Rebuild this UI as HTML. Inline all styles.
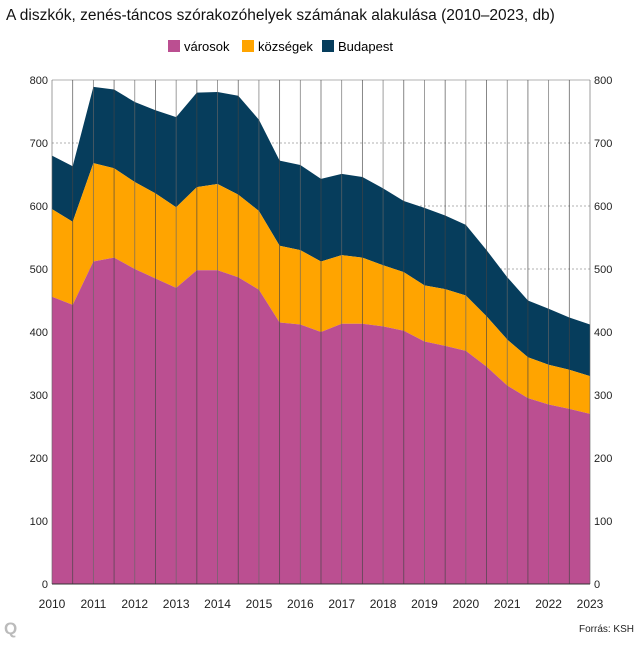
<!DOCTYPE html>
<html><head><meta charset="utf-8"><style>
body{margin:0;background:#fff;font-family:"Liberation Sans",sans-serif}
svg text{font-family:"Liberation Sans",sans-serif}
</style></head><body>
<svg id="c" width="640" height="640" viewBox="0 0 640 640">
<text x="6" y="20" font-size="15.5" fill="#111">A diszkók, zenés-táncos szórakozóhelyek számának alakulása (2010–2023, db)</text>
<g>
<rect x="168" y="40" width="12" height="12" fill="#bb4f91"/>
<text x="184" y="51" font-size="13">városok</text>
<rect x="242" y="40" width="12" height="12" fill="#ffa400"/>
<text x="258" y="51" font-size="13">községek</text>
<rect x="322" y="40" width="12" height="12" fill="#063d5c"/>
<text x="338" y="51" font-size="13">Budapest</text>
</g>
<g id="plot"></g>
<text x="4" y="634" font-size="17" font-weight="bold" fill="#bbb">Q</text>
<text x="634" y="632" font-size="10" text-anchor="end" fill="#222">Forrás: KSH</text>
</svg>
<script>
const yearLabels=["2010","2011","2012","2013","2014","2015","2016","2017","2018","2019","2020","2021","2022","2023"];
const yTicks=[0,100,200,300,400,500,600,700,800];
const varosok=[456,443,512,518,500,485,470,498,498,487,467,415,412,400,413,413,409,402,385,378,370,345,315,295,285,278,270];
const kozsegek=[139,132,156,142,138,135,128,132,137,131,125,122,118,112,109,105,97,93,89,90,88,80,73,65,63,62,60];
const budapest=[85,88,121,125,127,132,143,150,146,157,145,135,135,131,129,128,122,113,123,117,112,105,99,90,89,83,82];

const NS="http://www.w3.org/2000/svg";
const X0=52,X1=590,Y0=584,Y1=80,YMAX=800;
const n=varosok.length;
const xs=i=>X0+(X1-X0)*i/(n-1);
const ys=v=>Y0-(Y0-Y1)*v/YMAX;
const g=document.getElementById('plot');
function mk(t,a){const e=document.createElementNS(NS,t);for(const k in a)e.setAttribute(k,a[k]);g.appendChild(e);return e;}
// horizontal grid + labels
yTicks.forEach(v=>{
  const l=mk('line',{x1:X0,x2:X1,y1:ys(v),y2:ys(v),stroke:'#999','stroke-width':0.7,'stroke-dasharray':v===800?'':'2,2'});
  
  
  const t1=mk('text',{x:X0-4,y:ys(v)+4,'font-size':11,'text-anchor':'end',fill:'#222'});t1.textContent=v;
  
  
  const t2=mk('text',{x:X1+4,y:ys(v)+4,'font-size':11,fill:'#222'});t2.textContent=v;
  
  
});
// stacked areas
const s1=varosok, s2=varosok.map((v,i)=>v+kozsegek[i]), s3=s2.map((v,i)=>v+budapest[i]);
function area(top,bot,color,name){
  let d='M'+xs(0)+','+ys(top[0]);
  for(let i=1;i<n;i++)d+='L'+xs(i)+','+ys(top[i]);
  for(let i=n-1;i>=0;i--)d+='L'+xs(i)+','+ys(bot?bot[i]:0);
  const p=mk('path',{d:d+'Z',fill:color});
  
  
}
area(s3,s2,'#063d5c','area-budapest');
area(s2,s1,'#ffa400','area-kozsegek');
area(s1,null,'#bb4f91','area-varosok');
// vertical lines
for(let i=0;i<n;i++){
  const v=mk('line',{x1:xs(i),x2:xs(i),y1:Y1,y2:Y0,stroke:i%2?'#444':'#666','stroke-width':0.8,'stroke-opacity':0.8});
  
  
}
const ax=mk('line',{x1:X0,x2:X1,y1:Y0,y2:Y0,stroke:'#333','stroke-width':1});


yearLabels.forEach((y,i)=>{
  const t=mk('text',{x:X0+(X1-X0)*i/(yearLabels.length-1),y:608,'font-size':12,'text-anchor':'middle',fill:'#222'});t.textContent=y;
  
  
});
</script>
</body></html>
